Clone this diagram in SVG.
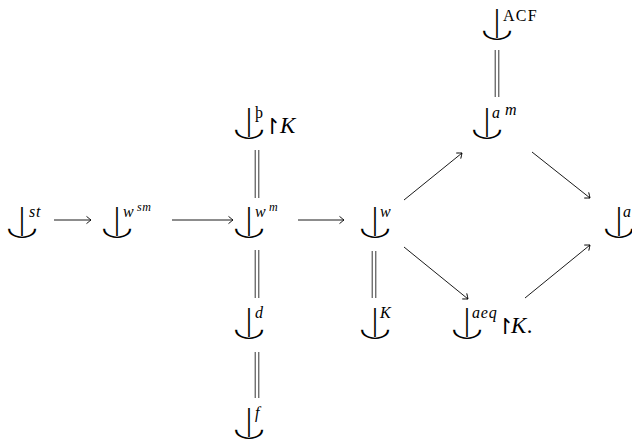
<svg xmlns="http://www.w3.org/2000/svg" width="632" height="447" viewBox="0 0 632 447">
<defs>
<style>
.bar{font-family:"Liberation Serif",serif;font-size:32px;text-anchor:middle;fill:#000}
.arc{font-family:"DejaVu Sans",sans-serif;font-size:34px;text-anchor:middle;fill:#000}
.sup{font-family:"Liberation Serif",serif;font-style:italic;font-size:16px;letter-spacing:0.8px;fill:#000}
.sup2{font-family:"Liberation Serif",serif;font-style:italic;font-size:12px;letter-spacing:0.6px;fill:#000}
.rm{font-family:"Liberation Serif",serif;font-size:16px;letter-spacing:1.2px;fill:#000}
.big{font-family:"Liberation Serif",serif;font-style:italic;font-size:23px;letter-spacing:1px;fill:#000}
.rs{font-family:"DejaVu Sans",sans-serif;font-size:22px;fill:#000}
.ar{stroke:#000;stroke-width:0.9;fill:none;marker-end:url(#h)}
.eq{stroke:#000;stroke-width:0.8;fill:none}
</style>
<marker id="h" markerWidth="10" markerHeight="10" refX="0" refY="0" viewBox="-6 -5 8 10" orient="auto" markerUnits="userSpaceOnUse">
<path d="M-4.5,-3.6 Q-1.2,-1 0,0 Q-1.2,1 -4.5,3.6" stroke="#000" stroke-width="0.9" fill="none"/>
</marker>
</defs>
<rect width="632" height="447" fill="#fff"/>
<g id="n-st"><text class="bar" x="22" y="229">|</text><text class="arc" transform="translate(22,236) scale(1.08,0.72)" y="-2">◡</text><text class="sup" x="29" y="217">st</text></g>
<g id="n-wsm"><text class="bar" x="117" y="229">|</text><text class="arc" transform="translate(117,236) scale(1.08,0.72)" y="-2">◡</text><text class="sup" x="123" y="217">w</text><text class="sup2" x="137" y="211">sm</text></g>
<g id="n-wm"><text class="bar" x="249" y="229">|</text><text class="arc" transform="translate(249,236) scale(1.08,0.72)" y="-2">◡</text><text class="sup" x="255" y="217">w</text><text class="sup2" x="269" y="211">m</text></g>
<g id="n-w"><text class="bar" x="375" y="229">|</text><text class="arc" transform="translate(375,236) scale(1.08,0.72)" y="-2">◡</text><text class="sup" x="380" y="217">w</text></g>
<g id="n-a"><text class="bar" x="619" y="229">|</text><text class="arc" transform="translate(619,236) scale(1.08,0.72)" y="-2">◡</text><text class="sup" x="623" y="217">a</text></g>
<g id="n-am"><text class="bar" x="487" y="130">|</text><text class="arc" transform="translate(487,137) scale(1.08,0.72)" y="-2">◡</text><text class="sup" x="492" y="118">a</text><text class="sup" x="505" y="115">m</text></g>
<g id="n-acf"><text class="bar" x="497" y="31">|</text><text class="arc" transform="translate(497,38) scale(1.08,0.72)" y="-2">◡</text><text class="rm" x="503" y="21">ACF</text></g>
<g id="n-thornK"><text class="bar" x="249" y="130">|</text><text class="arc" transform="translate(249,137) scale(1.08,0.72)" y="-2">◡</text><text class="rm" x="255" y="118">þ</text><text class="rs" x="263" y="134">↾</text><text class="big" x="280" y="133">K</text></g>
<g id="n-d"><text class="bar" x="249" y="330">|</text><text class="arc" transform="translate(249,337) scale(1.08,0.72)" y="-2">◡</text><text class="sup" x="255" y="318">d</text></g>
<g id="n-f"><text class="bar" x="249" y="430">|</text><text class="arc" transform="translate(249,437) scale(1.08,0.72)" y="-2">◡</text><text class="sup" x="255" y="418">f</text></g>
<g id="n-K"><text class="bar" x="375" y="330">|</text><text class="arc" transform="translate(375,337) scale(1.08,0.72)" y="-2">◡</text><text class="sup" x="380" y="318">K</text></g>
<g id="n-aeq"><text class="bar" x="467" y="330">|</text><text class="arc" transform="translate(467,337) scale(1.08,0.72)" y="-2">◡</text><text class="sup" x="472" y="318">aeq</text><text class="rs" x="496" y="334">↾</text><text class="big" x="511" y="333">K.</text></g>
<g id="connectors">
<line class="ar" x1="54" y1="220" x2="91" y2="220"/>
<line class="ar" x1="172" y1="220" x2="233" y2="220"/>
<line class="ar" x1="298" y1="220" x2="344" y2="220"/>
<line class="ar" x1="404" y1="200" x2="462" y2="153"/>
<line class="ar" x1="532" y1="152" x2="590" y2="198"/>
<line class="ar" x1="404" y1="247" x2="468" y2="299"/>
<line class="ar" x1="525" y1="298" x2="590" y2="245"/>
<path class="eq" d="M495.2,50V97M498.8,50V97"/>
<path class="eq" d="M255.2,150V198M258.8,150V198"/>
<path class="eq" d="M255.2,250V298M258.8,250V298"/>
<path class="eq" d="M255.2,352V398M258.8,352V398"/>
<path class="eq" d="M372.2,251V298M375.8,251V298"/>
</g>
</svg>
